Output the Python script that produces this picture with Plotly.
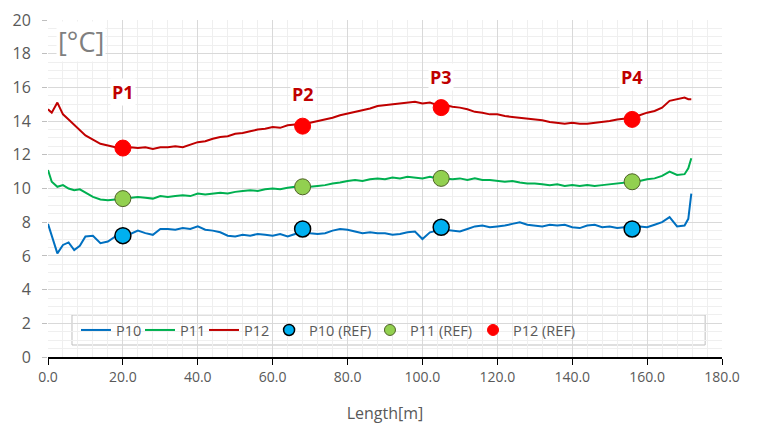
import plotly.graph_objects as go

length_m = [0, 1, 2.5, 4, 5.5, 7, 8.5, 10] + list(range(12, 171, 2)) + [171, 171.8]

p12 = [14.7, 14.5, 15.1, 14.4, 14.1, 13.8, 13.5, 13.15,
       12.9, 12.65, 12.55, 12.45, 12.4, 12.45, 12.4, 12.45, 12.35, 12.45,
       12.45, 12.5, 12.45, 12.6, 12.75, 12.8, 12.95, 13.05, 13.1, 13.25,
       13.3, 13.4, 13.5, 13.55, 13.65, 13.6, 13.75, 13.8, 13.8, 13.9,
       14.0, 14.1, 14.2, 14.35, 14.45, 14.55, 14.65, 14.75, 14.9, 14.95,
       15.0, 15.05, 15.1, 15.15, 15.05, 15.1, 14.95, 14.95, 14.85, 14.8,
       14.7, 14.55, 14.5, 14.4, 14.4, 14.3, 14.25, 14.2, 14.15, 14.1,
       14.05, 13.95, 13.9, 13.85, 13.9, 13.85, 13.85, 13.9, 13.95, 14.0,
       14.1, 14.15, 14.2, 14.35, 14.5, 14.6, 14.8, 15.2, 15.3, 15.4,
       15.3, 15.3]

p11 = [11.1, 10.4, 10.1, 10.2, 10.0, 9.9, 9.95, 9.75,
       9.5, 9.35, 9.3, 9.35, 9.4, 9.45, 9.5, 9.45, 9.4, 9.55,
       9.5, 9.55, 9.6, 9.55, 9.7, 9.65, 9.7, 9.75, 9.7, 9.8,
       9.85, 9.9, 9.85, 9.95, 10.0, 9.95, 10.05, 10.1, 10.1, 10.1,
       10.15, 10.2, 10.3, 10.35, 10.45, 10.5, 10.45, 10.55, 10.6, 10.55,
       10.65, 10.6, 10.7, 10.65, 10.6, 10.7, 10.6, 10.6, 10.55, 10.6,
       10.5, 10.6, 10.5, 10.5, 10.45, 10.4, 10.45, 10.35, 10.3, 10.3,
       10.25, 10.2, 10.25, 10.15, 10.2, 10.15, 10.2, 10.15, 10.2, 10.25,
       10.3, 10.35, 10.4, 10.45, 10.55, 10.6, 10.75, 11.0, 10.8, 10.85,
       11.2, 11.8]

p10 = [7.9, 7.15, 6.15, 6.65, 6.8, 6.35, 6.6, 7.15,
       7.2, 6.75, 6.85, 7.15, 7.2, 7.3, 7.5, 7.35, 7.25, 7.6,
       7.6, 7.55, 7.65, 7.6, 7.75, 7.55, 7.5, 7.4, 7.2, 7.15,
       7.25, 7.2, 7.3, 7.25, 7.2, 7.3, 7.15, 7.3, 7.55, 7.35,
       7.3, 7.35, 7.5, 7.6, 7.55, 7.45, 7.35, 7.4, 7.35, 7.35,
       7.25, 7.3, 7.4, 7.45, 7.0, 7.4, 7.5, 7.55, 7.5, 7.45,
       7.6, 7.75, 7.8, 7.7, 7.75, 7.8, 7.9, 8.0, 7.85, 7.8,
       7.75, 7.85, 7.8, 7.85, 7.7, 7.65, 7.8, 7.85, 7.7, 7.75,
       7.65, 7.7, 7.7, 7.75, 7.7, 7.85, 8.0, 8.3, 7.75, 7.8,
       8.2, 9.7]

ref_x = [20, 68, 105, 156]
ref_p10 = [7.2, 7.6, 7.7, 7.6]
ref_p11 = [9.4, 10.1, 10.6, 10.4]
ref_p12 = [12.4, 13.7, 14.8, 14.1]

point_labels = ["P1", "P2", "P3", "P4"]
label_y = [15.7, 15.6, 16.6, 16.6]

x_ticks = [0, 20, 40, 60, 80, 100, 120, 140, 160, 180]
y_ticks = [0, 2, 4, 6, 8, 10, 12, 14, 16, 18, 20]

line_colors = ["#0070C0", "#00B050", "#C00000"]
ref_fill = ["#00B0F0", "#92D050", "#FF0000"]
ref_edge = ["#000000", "#4F6228", "#FF0000"]
ref_edge_w = [1.5, 1, 1]

# one legend per entry so each sits where the reference puts it
legend_ids = ["legend", "legend2", "legend3", "legend4", "legend5", "legend6"]
legend_x = [0.0415, 0.1365, 0.2315, 0.328, 0.4777, 0.6306]

fig = go.Figure()
for i, (name, vals, col) in enumerate(zip(["P10", "P11", "P12"], [p10, p11, p12], line_colors)):
    fig.add_trace(go.Scatter(x=length_m, y=vals, mode="lines", name=name,
                             line=dict(color=col, width=2), legend=legend_ids[i]))
for i, (name, vals, fc, ec, ew) in enumerate(zip(["P10 (REF)", "P11 (REF)", "P12 (REF)"],
                                             [ref_p10, ref_p11, ref_p12], ref_fill, ref_edge, ref_edge_w)):
    fig.add_trace(go.Scatter(x=ref_x, y=vals, mode="markers", name=name,
                             showlegend=False,
                             marker=dict(color=fc, size=16, line=dict(color=ec, width=ew))))
    # legend-only entry with a smaller symbol, as in the reference legend
    fig.add_trace(go.Scatter(x=[None], y=[None], mode="markers", name=name,
                             legend=legend_ids[3 + i],
                             marker=dict(color=fc, size=11, line=dict(color=ec, width=ew))))

for xv, yv, t in zip(ref_x, label_y, point_labels):
    fig.add_annotation(x=xv, y=yv, text="<b>" + t + "</b>", showarrow=False,
                       font=dict(family="Open Sans", size=18, color="#C00000"),
                       bgcolor="white")

fig.add_annotation(xref="paper", yref="paper", x=0.012, y=0.997,
                   xanchor="left", yanchor="top", text="[°C]", showarrow=False,
                   font=dict(family="Open Sans", size=27, color="#7F7F7F"),
                   bgcolor="white")

# legend frame
fig.add_shape(type="rect", xref="paper", yref="paper",
              x0=0.0356, x1=0.975, y0=0.0356, y1=0.1246,
              line=dict(color="#BFBFBF", width=1), fillcolor="white", layer="below")

legend_layout = {}
for lid, lx in zip(legend_ids, legend_x):
    legend_layout[lid] = dict(orientation="h", x=lx, y=0.08, xanchor="left", yanchor="middle",
                              bgcolor="rgba(0,0,0,0)", borderwidth=0,
                              font=dict(size=14.5, color="#595959"), itemwidth=30)

fig.update_layout(
    width=750, height=416,
    margin=dict(l=40, r=36, t=12, b=67),
    paper_bgcolor="white", plot_bgcolor="white",
    font=dict(family="Open Sans", color="#595959", size=14),
    showlegend=True,
    **legend_layout,
)
fig.update_xaxes(range=[0, 180], tickvals=x_ticks,
                 ticktext=[f"{v:.1f}" for v in x_ticks],
                 showgrid=True, gridcolor="#D9D9D9", gridwidth=1,
                 minor=dict(dtick=4, showgrid=True, gridcolor="#EFEFEF"),
                 showline=True, linecolor="#000000", linewidth=1.5,
                 ticks="outside", tickcolor="#000000", ticklen=6,
                 zeroline=False, automargin=False,
                 title=dict(text="Length[m]", font=dict(size=16, color="#595959"), standoff=25),
                 tickfont=dict(size=14, color="#595959"))
fig.update_yaxes(range=[0, 20], tickvals=y_ticks,
                 showgrid=True, gridcolor="#D9D9D9", gridwidth=1,
                 minor=dict(dtick=0.5, showgrid=True, gridcolor="#EFEFEF"),
                 showline=False, ticks="outside", tickcolor="#BFBFBF", ticklen=5,
                 ticklabelstandoff=8,
                 zeroline=False, automargin=False,
                 tickfont=dict(size=16, color="#595959"))

fig.write_html("out.html")
